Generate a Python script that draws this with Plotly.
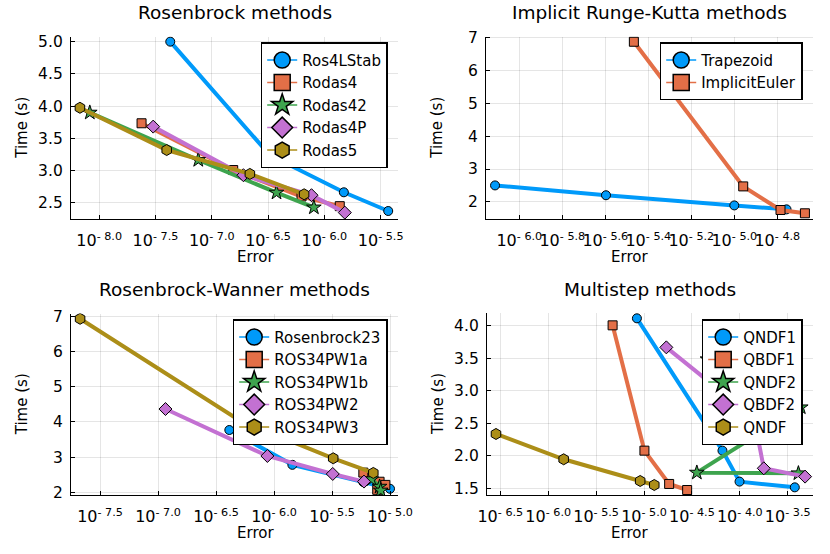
import plotly.graph_objects as go
from plotly.subplots import make_subplots

# Rosenbrock methods
ros4lstab_err = [4.28e-8, 3.28e-7, 1.49e-6, 3.69e-6]
ros4lstab_time = [5.00, 3.24, 2.665, 2.375]
rodas4_err = [2.38e-8, 1.55e-7, 6.27e-7, 1.37e-6]
rodas4_time = [3.735, 3.01, 2.60, 2.45]
rodas42_err = [8.26e-9, 7.59e-8, 3.76e-7, 8.07e-7]
rodas42_time = [3.90, 3.166, 2.66, 2.43]
rodas4p_err = [3.02e-8, 1.91e-7, 7.69e-7, 1.52e-6]
rodas4p_time = [3.683, 2.93, 2.62, 2.35]
rodas5_err = [6.75e-9, 3.98e-8, 2.18e-7, 6.61e-7]
rodas5_time = [3.975, 3.32, 2.95, 2.634]

# Implicit Runge-Kutta methods
trapezoid_err = [7.71e-7, 2.53e-6, 1.0e-5, 1.75e-5]
trapezoid_time = [2.50, 2.20, 1.89, 1.77]
impeuler_err = [3.41e-6, 1.10e-5, 1.64e-5, 2.13e-5]
impeuler_time = [6.88, 2.47, 1.75, 1.65]

# Rosenbrock-Wanner methods
rosenbrock23_err = [4.12e-7, 1.44e-6, 5.89e-6, 1.0e-5]
rosenbrock23_time = [3.77, 2.78, 2.29, 2.10]
ros34pw1a_err = [5.89e-6, 8.13e-6, 9.12e-6, 7.76e-6]
ros34pw1a_time = [2.56, 2.30, 2.21, 2.07]
ros34pw1b_err = [6.92e-6, 8.13e-6, 8.32e-6]
ros34pw1b_time = [2.37, 2.16, 2.05]
ros34pw2_err = [1.16e-7, 8.77e-7, 3.21e-6, 5.97e-6]
ros34pw2_time = [4.366, 3.032, 2.521, 2.304]
ros34pw3_err = [2.13e-8, 5.09e-7, 3.24e-6, 7.18e-6]
ros34pw3_time = [6.93, 4.035, 2.966, 2.55]

# Multistep methods
qndf1_err = [8.43e-6, 6.59e-5, 9.93e-5, 3.75e-4]
qndf1_time = [4.118, 2.08, 1.603, 1.515]
qbdf1_err = [4.70e-6, 1.01e-5, 1.83e-5, 2.82e-5]
qbdf1_time = [4.01, 2.08, 1.567, 1.474]
qndf2_err = [4.09e-4, 3.56e-5, 4.33e-4, 4.60e-5]
qndf2_time = [1.731, 1.741, 2.747, 3.487]
qbdf2_err = [1.71e-5, 1.41e-4, 1.78e-4, 4.80e-4]
qbdf2_time = [3.671, 2.58, 1.808, 1.68]
qndf_err = [2.85e-7, 1.45e-6, 9.12e-6, 1.28e-5]
qndf_time = [2.337, 1.947, 1.613, 1.551]

# tick exponents for the x axes
xtick_exp1 = [-8.0, -7.5, -7.0, -6.5, -6.0, -5.5]
xtick_exp2 = [-6.0, -5.8, -5.6, -5.4, -5.2, -5.0, -4.8]
xtick_exp3 = [-7.5, -7.0, -6.5, -6.0, -5.5, -5.0]
xtick_exp4 = [-6.5, -6.0, -5.5, -5.0, -4.5, -4.0, -3.5]
ytick1 = [2.5, 3.0, 3.5, 4.0, 4.5, 5.0]
ytick2 = [2, 3, 4, 5, 6, 7]
ytick3 = [2, 3, 4, 5, 6, 7]
ytick4 = [1.5, 2.0, 2.5, 3.0, 3.5, 4.0]

colors = ["#009AFA", "#E36F47", "#3EA44E", "#C371D2", "#AC8E18"]
symbols = ["circle", "square", "star", "diamond", "hexagon"]
msize = {"circle": 9, "square": 9, "star": 11, "diamond": 10, "hexagon": 11}
FONT = "DejaVu Sans"

panels = [
    (1, 1, "Rosenbrock methods", "legend", [
        ("Ros4LStab", ros4lstab_err, ros4lstab_time),
        ("Rodas4", rodas4_err, rodas4_time),
        ("Rodas42", rodas42_err, rodas42_time),
        ("Rodas4P", rodas4p_err, rodas4p_time),
        ("Rodas5", rodas5_err, rodas5_time)]),
    (1, 2, "Implicit Runge-Kutta methods", "legend2", [
        ("Trapezoid", trapezoid_err, trapezoid_time),
        ("ImplicitEuler", impeuler_err, impeuler_time)]),
    (2, 1, "Rosenbrock-Wanner methods", "legend3", [
        ("Rosenbrock23", rosenbrock23_err, rosenbrock23_time),
        ("ROS34PW1a", ros34pw1a_err, ros34pw1a_time),
        ("ROS34PW1b", ros34pw1b_err, ros34pw1b_time),
        ("ROS34PW2", ros34pw2_err, ros34pw2_time),
        ("ROS34PW3", ros34pw3_err, ros34pw3_time)]),
    (2, 2, "Multistep methods", "legend4", [
        ("QNDF1", qndf1_err, qndf1_time),
        ("QBDF1", qbdf1_err, qbdf1_time),
        ("QNDF2", qndf2_err, qndf2_time),
        ("QBDF2", qbdf2_err, qbdf2_time),
        ("QNDF", qndf_err, qndf_time)]),
]

fig = make_subplots(rows=2, cols=2)

for row, col, title, leg, series in panels:
    for i, (name, err, t) in enumerate(series):
        sym = symbols[i]
        fig.add_trace(go.Scatter(
            x=err, y=t, mode="lines+markers", name=name, showlegend=False,
            line=dict(color=colors[i], width=4),
            marker=dict(symbol=sym, size=msize[sym], color=colors[i],
                        line=dict(color="black", width=1)),
        ), row=row, col=col)
        # bigger markers for the legend entry
        fig.add_trace(go.Scatter(
            x=[None], y=[None], mode="lines+markers", name=name, legend=leg,
            line=dict(color=colors[i], width=1.5),
            marker=dict(symbol=sym, size=16, color=colors[i],
                        line=dict(color="black", width=1.5)),
        ), row=row, col=col)

# plot areas in pixels (x0, x1, ytop, ybottom)
W, H = 830, 554
boxes = {
    (1, 1): (71, 398, 36.5, 219),
    (1, 2): (486, 813, 36.5, 219),
    (2, 1): (71, 398, 313.5, 495),
    (2, 2): (487, 813, 313, 495),
}
xranges = {(1, 1): [-8.25, -5.346], (1, 2): [-6.155, -4.634],
           (2, 1): [-7.75, -4.931], (2, 2): [-6.639, -3.236]}
yranges = {(1, 1): [2.251, 5.08], (1, 2): [1.476, 7.04],
           (2, 1): [1.923, 7.08], (2, 2): [1.397, 4.2]}
xticks = {(1, 1): xtick_exp1, (1, 2): xtick_exp2, (2, 1): xtick_exp3, (2, 2): xtick_exp4}
yticks = {(1, 1): ytick1, (1, 2): ytick2, (2, 1): ytick3, (2, 2): ytick4}
yfmt = {(1, 1): ".1f", (1, 2): "d", (2, 1): "d", (2, 2): ".1f"}

axstyle = dict(showline=True, linecolor="black", linewidth=1.3, mirror=False,
               ticks="inside", ticklen=4, tickcolor="black", tickwidth=1,
               showgrid=True, gridcolor="rgba(0,0,0,0.1)", gridwidth=1,
               zeroline=False, automargin=False)

annotations = []
for (row, col), (x0, x1, yt, yb) in boxes.items():
    fig.update_xaxes(row=row, col=col, type="log", range=xranges[(row, col)],
                     domain=[x0 / W, x1 / W], tickangle=0,
                     tickvals=[10 ** e for e in xticks[(row, col)]],
                     ticktext=["10<sup>- %.1f</sup>" % abs(e) for e in xticks[(row, col)]],
                     ticklabelstandoff=7,
                     tickfont=dict(family=FONT, size=16, color="black"), **axstyle)
    fig.update_yaxes(row=row, col=col, range=yranges[(row, col)],
                     domain=[1 - yb / H, 1 - yt / H],
                     tickvals=yticks[(row, col)], tickformat=yfmt[(row, col)],
                     ticklabelstandoff=4,
                     tickfont=dict(family=FONT, size=15.5, color="black"), **axstyle)
    cx = (x0 + x1) / 2 / W
    annotations.append(dict(text="Error", x=cx, y=1 - (yb + 38) / H, xref="paper", yref="paper",
                            yanchor="middle", showarrow=False,
                            font=dict(family=FONT, size=15, color="black")))
    annotations.append(dict(text="Time (s)", x=(x0 - 49) / W, y=1 - (yt + yb) / 2 / H,
                            xref="paper", yref="paper", textangle=-90, showarrow=False,
                            xanchor="center", yanchor="middle",
                            font=dict(family=FONT, size=15, color="black")))

for row, col, title, leg, series in panels:
    x0, x1, yt, yb = boxes[(row, col)]
    annotations.append(dict(text=title, x=(x0 + x1) / 2 / W, y=1 - (yt - 24) / H,
                            xref="paper", yref="paper", showarrow=False,
                            xanchor="center", yanchor="middle",
                            font=dict(family=FONT, size=18.5, color="black")))

legstyle = dict(xanchor="right", yanchor="top", bgcolor="white", bordercolor="black",
                borderwidth=1.5, font=dict(family=FONT, size=15, color="black"))

fig.update_layout(
    width=W, height=H,
    margin=dict(l=0, r=0, t=0, b=0),
    paper_bgcolor="white", plot_bgcolor="white",
    annotations=annotations,
    legend=dict(x=387.7 / W, y=1 - 42.3 / H, **legstyle),
    legend2=dict(x=802.7 / W, y=1 - 42.3 / H, **legstyle),
    legend3=dict(x=387.7 / W, y=1 - 319.3 / H, **legstyle),
    legend4=dict(x=802.7 / W, y=1 - 319.3 / H, **legstyle),
)

# the page body has a default 8px margin; drop it so the figure sits at the corner
fig.write_html("out.html", config={"displayModeBar": False},
               post_script="document.body.style.margin = '0';")
